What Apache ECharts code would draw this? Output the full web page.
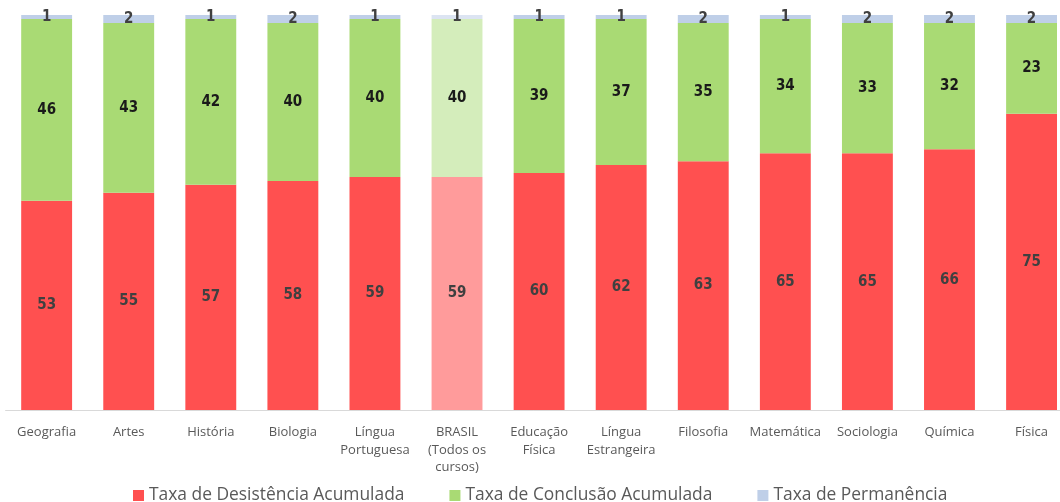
<!DOCTYPE html>
<html><head><meta charset="utf-8">
<script src="https://cdn.jsdelivr.net/npm/echarts@6/dist/echarts.min.js"></script>
<style>html,body{margin:0;padding:0;background:#fff}#c{width:1060px;height:502px}</style>
</head><body><div id="c"></div>
<script>
const categories = ['Geografia','Artes','História','Biologia','Língua\nPortuguesa','BRASIL\n(Todos os\ncursos)','Educação\nFísica','Língua\nEstrangeira','Filosofia','Matemática','Sociologia','Química','Física'];
const desistencia = [53,55,57,58,59,59,60,62,63,65,65,66,75];
const conclusao = [46,43,42,40,40,40,39,37,35,34,33,32,23];
const permanencia = [1,2,1,2,1,1,1,1,2,1,2,2,2];
const highlightIndex = 5;

const colors = {
  red: ['#FF5050', '#FF9B9B'],
  green: ['#A9DA74', '#D4EDBB'],
  blue: ['#BFCFE8', '#DCE4F2']
};
function mk(arr, pair) {
  return arr.map((v, i) => ({ value: v, itemStyle: { color: i === highlightIndex ? pair[1] : pair[0] } }));
}
const lbl = (color) => ({
  show: true, position: 'inside', color: color,
  fontFamily: '"DejaVu Sans Condensed", sans-serif', fontWeight: 'bold', fontSize: 15
});
const chart = echarts.init(document.getElementById('c'));
chart.setOption({
  animation: false,
  grid: { left: 5.6, top: 15, bottom: 92, width: 1067, outerBoundsMode: 'none', containLabel: false },
  legend: {
    top: 482, left: 128, itemWidth: 11, itemHeight: 11, itemGap: 45, icon: 'rect',
    textStyle: { fontFamily: 'Open Sans', fontSize: 17.4, color: '#595959' },
    data: [
      { name: 'Taxa de Desistência Acumulada', itemStyle: { color: colors.red[0] } },
      { name: 'Taxa de Conclusão Acumulada', itemStyle: { color: colors.green[0] } },
      { name: 'Taxa de Permanência', itemStyle: { color: colors.blue[0] } }
    ]
  },
  xAxis: {
    type: 'category', data: categories,
    axisLine: { lineStyle: { color: '#D9D9D9', width: 1 } },
    axisTick: { show: false },
    axisLabel: { interval: 0, color: '#595959', fontFamily: 'Open Sans', fontSize: 13, lineHeight: 17.5, margin: 14 }
  },
  yAxis: { type: 'value', min: 0, max: 100, show: false, splitLine: { show: false } },
  series: [
    { name: 'Taxa de Desistência Acumulada', type: 'bar', stack: 's', barCategoryGap: '38%', data: mk(desistencia, colors.red), label: lbl('#404040') },
    { name: 'Taxa de Conclusão Acumulada', type: 'bar', stack: 's', data: mk(conclusao, colors.green), label: lbl('#1a1a1a') },
    { name: 'Taxa de Permanência', type: 'bar', stack: 's', data: mk(permanencia, colors.blue), label: lbl('#404040') }
  ]
});
</script></body></html>
